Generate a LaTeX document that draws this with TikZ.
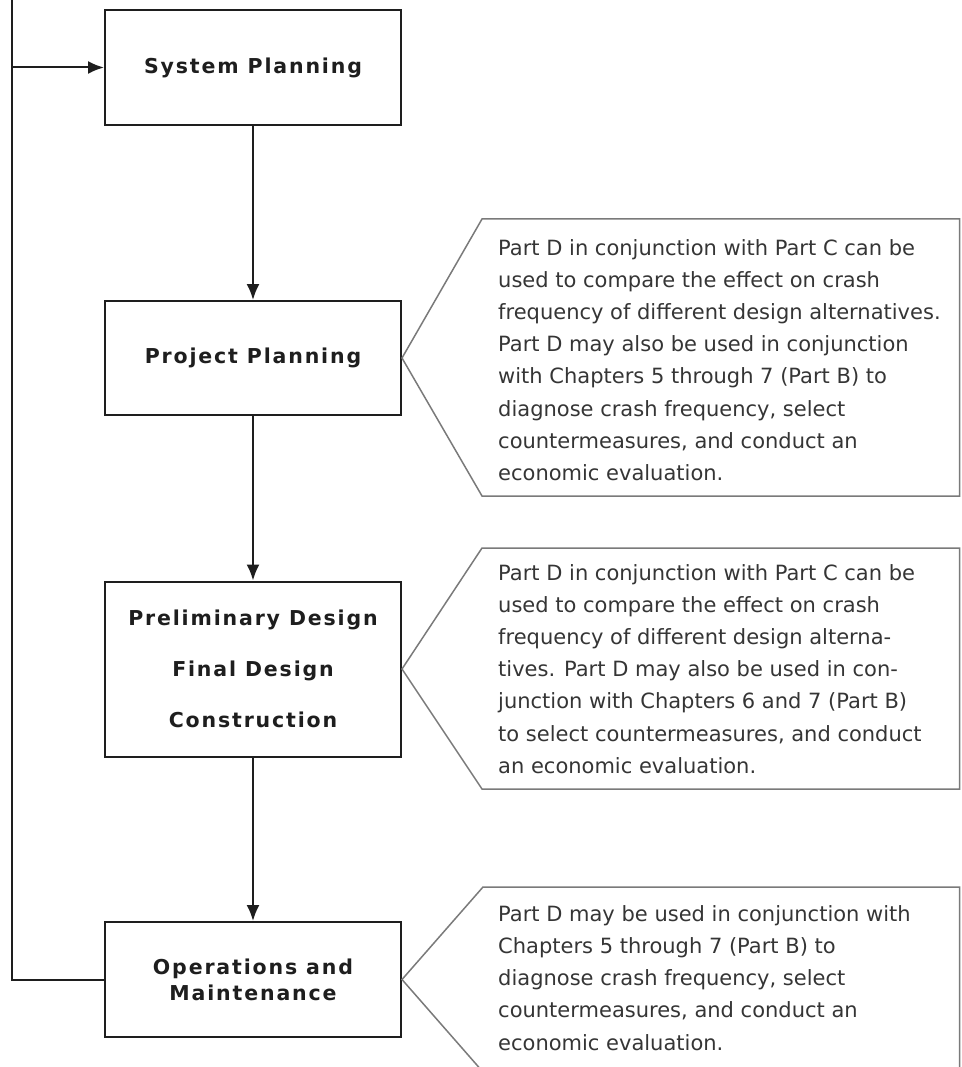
\documentclass[tikz,border=0pt]{standalone}
\usepackage{fontspec}
\usetikzlibrary{arrows.meta}
\setmainfont{DejaVu Sans}
\newfontfamily\boxfont[LetterSpace=9]{DejaVu Sans Bold}

\definecolor{ink}{HTML}{1E1E1E}
\definecolor{edge}{HTML}{7A7A7A}

\tikzstyle{block}=[draw=ink, line width=2pt, minimum width=296pt, text=ink, align=center, inner sep=0pt]
\tikzstyle{stage}=[block, minimum height=115pt, font=\boxfont\fontsize{20.5}{22}\selectfont]
\tikzstyle{flow}=[draw=ink, line width=2pt, -{Latex[length=16pt,width=13pt]}]
\tikzstyle{callout}=[draw=edge, line width=1.5pt]
\tikzstyle{note}=[anchor=base west, align=left, inner sep=0pt, text=ink!90, font=\fontsize{21}{32.2}\selectfont]

\begin{document}
\begin{tikzpicture}[x=1pt, y=-1pt]
    \useasboundingbox (0, 0) rectangle (961, 1067);

    \node[stage] (sp) at (253, 67.5) {System Planning};
    \node[stage, minimum height=114pt] (pp) at (253, 358) {Project Planning};
    \node[stage, minimum height=175pt, font=\boxfont\fontsize{20.5}{51}\selectfont] (pd) at (253, 669)
        {Preliminary Design\\Final Design\\Construction};
    \node[stage, font=\boxfont\fontsize{20.5}{26}\selectfont] (om) at (253, 979.5)
        {Operations and\\Maintenance};

    \draw[flow] (sp) -- (pp);
    \draw[flow] (pp) -- (pd);
    \draw[flow] (pd) -- (om);
    \coordinate (back) at (12, 0);
    \draw[flow] (om.west) -| (back) |- (sp.west);

    % callouts
    \begin{scope}
    \clip (0, 0) rectangle (961, 1067);
    \draw[callout] (pp.east) -- (482, 219) -- (959.5, 219) -- (959.5, 496) -- (482, 496) -- cycle;
    \draw[callout] (pd.east) -- (482, 548) -- (959.5, 548) -- (959.5, 789) -- (482, 789) -- cycle;
    \draw[callout] (om.east) -- (483, 887) -- (959.5, 887) -- (959.5, 1080) -- (490, 1080) -- cycle;
    \end{scope}

    % base of a multi-line note is its last line
    \node[note] (ppnote) at (498, 480.4) {Part D in conjunction with Part C can be\\
        used to compare the effect on crash\\
        frequency of different design alternatives.\\
        Part D may also be used in conjunction\\
        with Chapters 5 through 7 (Part B) to\\
        diagnose crash frequency, select\\
        countermeasures, and conduct an\\
        economic evaluation.};
    \node[note] (pdnote) at (498, 773.2) {Part D in conjunction with Part C can be\\
        used to compare the effect on crash\\
        frequency of different design alterna-\\
        tives. Part D may also be used in con-\\
        junction with Chapters 6 and 7 (Part B)\\
        to select countermeasures, and conduct\\
        an economic evaluation.};
    \node[note] (omnote) at (498, 1050)
        {Part D may be used in conjunction with\\
        Chapters 5 through 7 (Part B) to\\
        diagnose crash frequency, select\\
        countermeasures, and conduct an\\
        economic evaluation.};
\end{tikzpicture}
\end{document}
